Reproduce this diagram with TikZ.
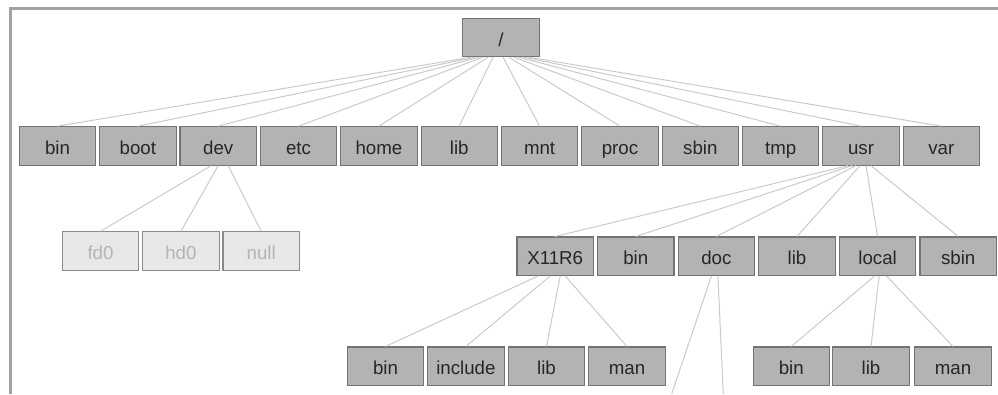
\documentclass[tikz,border=0pt]{standalone}
\usepackage{fontspec}
\setmainfont{Liberation Sans}
\definecolor{boxfill}{HTML}{B3B3B3}
\definecolor{boxline}{HTML}{737373}
\definecolor{textcol}{HTML}{262626}
\definecolor{dimfill}{HTML}{E8E8E8}
\definecolor{dimline}{HTML}{8A8A8A}
\definecolor{dimtext}{HTML}{B4B4B4}
\definecolor{edgecol}{HTML}{CACACA}
\definecolor{framecol}{HTML}{A2A2A2}
\tikzset{
  dirbox/.style={draw=boxline, fill=boxfill, line width=1.1pt, text=textcol,
    minimum width=76.4pt, minimum height=38.4pt, inner sep=0pt,
    text height=17.2pt, text depth=0pt,
    font=\fontsize{18.7pt}{20pt}\selectfont},
  devbox/.style={dirbox, draw=dimline, fill=dimfill, text=dimtext},
  link/.style={draw=edgecol, line width=1pt},
}
\begin{document}
\begin{tikzpicture}[x=1pt,y=-1pt]
\useasboundingbox (0,0) rectangle (998,394);
% window frame (left and top edges)
\draw[framecol, line width=3.2pt] (10.5,394) -- (10.5,8.5) -- (998,8.5);

% root
\node[dirbox] (root) at (501,37.5) {/};

% first level
\foreach \n/\t [count=\i from 0] in {rbin/bin,rboot/boot,rdev/dev,retc/etc,rhome/home,rlib/lib,rmnt/mnt,rproc/proc,rsbin/sbin,rtmp/tmp,rusr/usr,rvar/var}
  \node[dirbox] (\n) at ({57.5+80.35*\i},145.9) {\t};

% devices
\node[devbox] (fdzero) at (100.5,251) {fd0};
\node[devbox] (hdzero) at (180.9,251) {hd0};
\node[devbox] (devnull) at (261.2,251) {null};

% contents of usr
\foreach \n/\t [count=\i from 0] in {xorg/X11R6,ubin/bin,udoc/doc,ulib/lib,ulocal/local,usbin/sbin}
  \node[dirbox] (\n) at ({555.2+80.6*\i},256.2) {\t};

% contents of X11R6
\node[dirbox] (xbin) at (385.5,366.2) {bin};
\node[dirbox] (xinclude) at (465.9,366.2) {include};
\node[dirbox] (xlib) at (546.5,366.2) {lib};
\node[dirbox] (xman) at (627,366.2) {man};

% contents of local
\node[dirbox] (lbin) at (791.3,366.2) {bin};
\node[dirbox] (llib) at (871,366.2) {lib};
\node[dirbox] (lman) at (953,366.2) {man};

% doc continues below the visible area
\coordinate (docA) at (671.7,394);
\coordinate (docB) at (723.3,394);

\begin{scope}[on background layer/.try]
\foreach \c/\o in {rbin/-30,rboot/-26,rdev/-22,retc/-18,rhome/-13,rlib/-8,rmnt/2,rproc/8,rsbin/13,rtmp/18,rusr/23,rvar/28}
  \path[link] ([xshift=\o pt]root.south) -- (\c.north);
\foreach \c/\o in {fdzero/-7,hdzero/0,devnull/10}
  \path[link] ([xshift=\o pt]rdev.south) -- (\c.north);
\foreach \c/\o in {xorg/-13,ubin/-9,udoc/-5,ulib/-1,ulocal/5,usbin/10}
  \path[link] ([xshift=\o pt]rusr.south) -- (\c.north);
\foreach \c/\o in {xbin/-17,xinclude/-5,xlib/5,xman/10}
  \path[link] ([xshift=\o pt]xorg.south) -- (\c.north);
\foreach \c/\o in {lbin/-3,llib/1.5,lman/9}
  \path[link] ([xshift=\o pt]ulocal.south) -- (\c.north);
\path[link] ([xshift=-5pt]udoc.south) -- (docA);
\path[link] ([xshift=1.5pt]udoc.south) -- (docB);
\end{scope}
\end{tikzpicture}
\end{document}
